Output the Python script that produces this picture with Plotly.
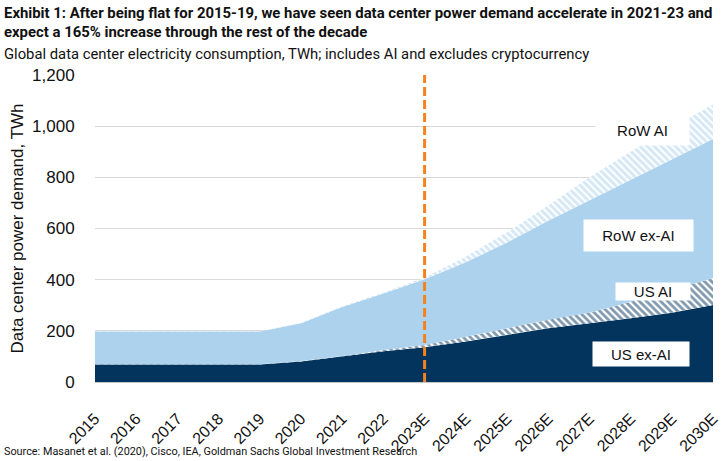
import plotly.graph_objects as go

years = ["2015", "2016", "2017", "2018", "2019", "2020", "2021", "2022",
         "2023E", "2024E", "2025E", "2026E", "2027E", "2028E", "2029E", "2030E"]
us_ex_ai = [68, 68, 68, 68, 68, 80, 99, 120, 136, 158, 184, 210, 230, 249, 271, 301]
us_ai = [1, 1, 1, 1, 1, 2, 3, 5, 9, 19, 26, 33, 41, 65, 90, 105]
row_ex_ai = [128, 128, 128, 128, 128, 148, 191, 221, 257, 291, 335, 387, 439, 476, 509, 544]
row_ai = [1, 1, 1, 1, 1, 2, 3, 4, 6, 22, 40, 60, 90, 110, 125, 135]
y_ticks = [0, 200, 400, 600, 800, 1000, 1200]
forecast_start = "2023E"

NAVY = "#02345D"
LIGHT = "#ADD2EE"
ORANGE = "#F5821F"
NARROW = "Roboto, sans-serif"
SANS = "Liberation Sans, Arial, sans-serif"

W, H = 728, 461
ML, MR, MT, MB = 95, 15, 75, 79
PW, PH = W - ML - MR, H - MT - MB


def px_x(p):
    return (p - ML) / PW


def px_y(p):
    return (H - MB - p) / PH


fig = go.Figure()
fig.add_trace(go.Scatter(x=years, y=us_ex_ai, stackgroup="s", mode="lines",
                         line=dict(width=0, color=NAVY), fillcolor=NAVY, name="US ex-AI"))
fig.add_trace(go.Scatter(x=years, y=us_ai, stackgroup="s", mode="lines",
                         line=dict(width=0, color=NAVY),
                         fillpattern=dict(shape="\\", fgcolor=NAVY, bgcolor="white",
                                          size=5, solidity=0.55),
                         name="US AI"))
fig.add_trace(go.Scatter(x=years, y=row_ex_ai, stackgroup="s", mode="lines",
                         line=dict(width=0, color=LIGHT), fillcolor=LIGHT, name="RoW ex-AI"))
fig.add_trace(go.Scatter(x=years, y=row_ai, stackgroup="s", mode="lines",
                         line=dict(width=0, color=LIGHT),
                         fillpattern=dict(shape="\\", fgcolor=LIGHT, bgcolor="white",
                                          size=5, solidity=0.6),
                         name="RoW AI"))

xi = years.index(forecast_start)
fig.add_shape(type="line", xref="x", yref="y", x0=xi, x1=xi, y0=0, y1=1200,
              line=dict(color=ORANGE, width=3, dash="9px,4px"), layer="above")

labels = [("RoW AI", 13.3, 985, 93, 30),
          ("RoW ex-AI", 13.19, 574, 109, 31),
          ("US AI", 13.54, 354, 74, 17),
          ("US ex-AI", 13.25, 110, 96, 24)]
for txt, lx, ly, w, h in labels:
    fig.add_annotation(x=lx, y=ly, xref="x", yref="y", text=txt, showarrow=False,
                       bgcolor="white", width=w, height=h, borderpad=0,
                       font=dict(family=SANS, size=15, color="#111111"))

fig.add_annotation(x=px_x(2), y=px_y(2), xref="paper", yref="paper", xanchor="left", yanchor="top",
                   align="left", showarrow=False,
                   text="<b>Exhibit 1: After being flat for 2015-19, we have seen data center power demand accelerate in 2021-23 and<br>expect a 165% increase through the rest of the decade</b>",
                   font=dict(family=NARROW, size=14.9, color="#111111"))
fig.add_annotation(x=px_x(2), y=px_y(43), xref="paper", yref="paper", xanchor="left", yanchor="top",
                   align="left", showarrow=False,
                   text="Global data center electricity consumption, TWh; includes AI and excludes cryptocurrency",
                   font=dict(family=NARROW, size=14.8, color="#111111"))
fig.add_annotation(x=px_x(2), y=px_y(460), xref="paper", yref="paper", xanchor="left", yanchor="bottom",
                   align="left", showarrow=False,
                   text="Source: Masanet et al. (2020), Cisco, IEA, Goldman Sachs Global Investment Research",
                   font=dict(family=NARROW, size=10.85, color="#111111"))

fig.update_layout(
    width=W, height=H,
    margin=dict(l=ML, r=MR, t=MT, b=MB),
    paper_bgcolor="white", plot_bgcolor="white",
    showlegend=False,
    xaxis=dict(range=[0, len(years) - 1], type="category", showgrid=False, automargin=False,
               showline=True, linecolor="#C8C8C8", linewidth=1,
               tickangle=-45, ticks="outside", ticklen=20, tickcolor="rgba(0,0,0,0)",
               tickfont=dict(family=SANS, size=16, color="#111111")),
    yaxis=dict(range=[0, 1200], tickvals=y_ticks, tickformat=",d", automargin=False,
               showgrid=True, gridcolor="#D9D9D9", gridwidth=1, zeroline=False,
               ticks="outside", ticklen=16, tickcolor="rgba(0,0,0,0)",
               tickfont=dict(family=SANS, size=17, color="#111111"),
               title=dict(text="Data center power demand, TWh", standoff=4,
                          font=dict(family=SANS, size=17, color="#111111"))),
)

fig.write_html("out.html", config={"displayModeBar": False},
               post_script="document.body.style.margin='0';")
